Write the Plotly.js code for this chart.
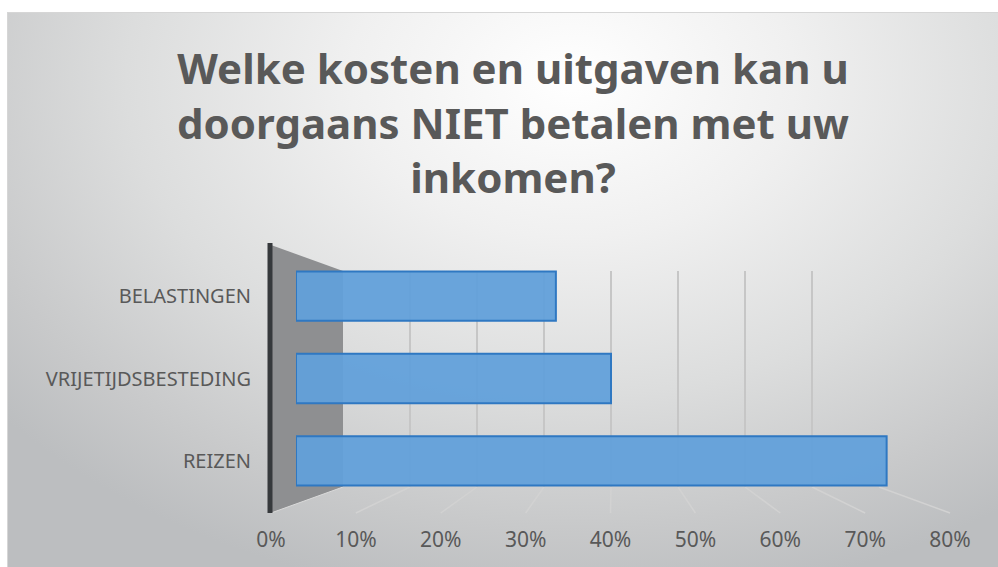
<!DOCTYPE html>
<html>
<head>
<meta charset="utf-8">
<script src="https://cdn.plot.ly/plotly-3.0.1.min.js"></script>
<style>
  html, body { margin: 0; padding: 0; width: 998px; height: 567px; overflow: hidden; background: #ffffff; }
  #bg { position: absolute; left: 7px; top: 12px; width: 991px; height: 555px;
        border-top: 1px solid #d6d6d6; border-left: 1px solid #d6d6d6; box-sizing: border-box;
        background: radial-gradient(ellipse 75% 95% at 57% 12%, #ffffff 0%, #f0f0f0 30%, #dcdddd 60%, #c8c9ca 85%, #bcbec0 100%); }
  #chart { position: absolute; left: 0; top: 0; width: 998px; height: 567px; }
</style>
</head>
<body>
<div id="bg"></div>
<div id="chart"></div>
<script>
// ---- data ----
var categories = ["REIZEN", "VRIJETIJDSBESTEDING", "BELASTINGEN"];
var shares = [0.75, 0.40, 0.33];
var tickValues = [0, 0.1, 0.2, 0.3, 0.4, 0.5, 0.6, 0.7, 0.8];
var tickLabels = ["0%", "10%", "20%", "30%", "40%", "50%", "60%", "70%", "80%"];
var titleText = "Welke kosten en uitgaven kan u<br>doorgaans NIET betalen met uw<br>inkomen?";

// ---- geometry (pixels of the 998x567 canvas) ----
var W = 998, H = 567;
function px(x) { return x / W; }
function py(y) { return 1 - y / H; }
var front = {x0: 271, x1: 950, top: 245, bottom: 513};   // front plane (tick labels)
var back  = {x0: 343, x1: 879, top: 271, bottom: 487};   // back wall (gridlines)
var mid   = {x0: 296, x1: 926, top: 255, bottom: 502};   // bar plane
var xmax = 0.8;
function backX(v) { return back.x0 + (back.x1 - back.x0) * v / xmax; }
function frontX(v) { return front.x0 + (front.x1 - front.x0) * v / xmax; }

var labelColor = "#595959";
var shapes = [];
// left side wall
shapes.push({type: "path", xref: "paper", yref: "paper", layer: "below",
  path: "M" + px(front.x0) + "," + py(front.top) + " L" + px(back.x0) + "," + py(back.top) +
        " L" + px(back.x0) + "," + py(back.bottom) + " L" + px(front.x0) + "," + py(front.bottom) + " Z",
  fillcolor: "#8e8f91", line: {width: 0}});
// floor grid lines (from back wall ticks to front ticks)
tickValues.forEach(function (v) {
  if (v === 0) return;
  shapes.push({type: "line", xref: "paper", yref: "paper", layer: "below",
    x0: px(backX(v)), y0: py(back.bottom), x1: px(frontX(v)), y1: py(front.bottom),
    line: {color: "#d2d2d2", width: 1.5}});
});
shapes.push({type: "line", xref: "paper", yref: "paper", layer: "below",
  x0: px(back.x0), y0: py(back.bottom), x1: px(front.x0), y1: py(front.bottom),
  line: {color: "#dadada", width: 1}});
// front vertical axis edge
shapes.push({type: "line", xref: "paper", yref: "paper", layer: "above",
  x0: px(front.x0 - 1), y0: py(front.top - 2), x1: px(front.x0 - 1), y1: py(front.bottom),
  line: {color: "#36393c", width: 5}});

var traces = [
  // back wall gridlines holder (x / y)
  {type: "scatter", x: [0, xmax], y: [0, 1], xaxis: "x", yaxis: "y", mode: "markers",
   marker: {opacity: 0}, hoverinfo: "skip", showlegend: false},
  // bars (x2 / y2)
  {type: "bar", orientation: "h", y: categories, x: shares, xaxis: "x2", yaxis: "y2",
   width: 0.6,
   marker: {color: "rgba(98,160,218,0.95)", line: {color: "#2f78c2", width: 2}},
   hoverinfo: "skip", showlegend: false},
  // front tick labels holder (x3 / y3)
  {type: "scatter", x: [0, xmax], y: [0, 1], xaxis: "x3", yaxis: "y3", mode: "markers",
   marker: {opacity: 0}, hoverinfo: "skip", showlegend: false}
];

var layout = {
  width: W, height: H,
  margin: {l: 0, r: 0, t: 0, b: 0},
  paper_bgcolor: "rgba(0,0,0,0)", plot_bgcolor: "rgba(0,0,0,0)",
  showlegend: false,
  title: {text: titleText, x: 513 / W, xanchor: "center", y: 1 - 84 / H, yanchor: "top", yref: "container",
          font: {family: "Noto Sans, Open Sans, sans-serif", size: 42, weight: 700, color: labelColor}},
  xaxis: {domain: [px(back.x0), px(back.x1)], range: [0, xmax], anchor: "y",
          showgrid: true, gridcolor: "#c6c6c6", gridwidth: 1.5, tickvals: tickValues,
          showticklabels: false, zeroline: false, showline: false, ticks: "", fixedrange: true},
  yaxis: {domain: [py(back.bottom), py(back.top)], range: [0, 1], anchor: "x",
          visible: false, fixedrange: true},
  xaxis2: {domain: [px(mid.x0), px(mid.x1)], range: [0, xmax], anchor: "y2",
           showgrid: false, showticklabels: false, zeroline: false, showline: false, ticks: "", fixedrange: true},
  yaxis2: {domain: [py(mid.bottom), py(mid.top)], range: [-0.5, 2.5], anchor: "x2",
           type: "category", categoryorder: "array", categoryarray: categories,
           showgrid: false, zeroline: false, showline: false, ticks: "",
           ticklabelstandoff: 44,
           tickfont: {family: "Noto Sans, sans-serif", size: 20, color: labelColor}, fixedrange: true},
  xaxis3: {domain: [px(front.x0), px(front.x1)], range: [0, xmax], anchor: "y3",
           tickvals: tickValues, ticktext: tickLabels, ticks: "", showgrid: false, zeroline: false, showline: false,
           ticklabelstandoff: 12,
           tickfont: {family: "Noto Sans, sans-serif", size: 21, color: labelColor}, fixedrange: true},
  yaxis3: {domain: [py(front.bottom), py(front.top)], range: [0, 1], anchor: "x3", visible: false, fixedrange: true},
  shapes: shapes
};

Plotly.newPlot("chart", traces, layout, {displayModeBar: false, staticPlot: true});
</script>
</body>
</html>
